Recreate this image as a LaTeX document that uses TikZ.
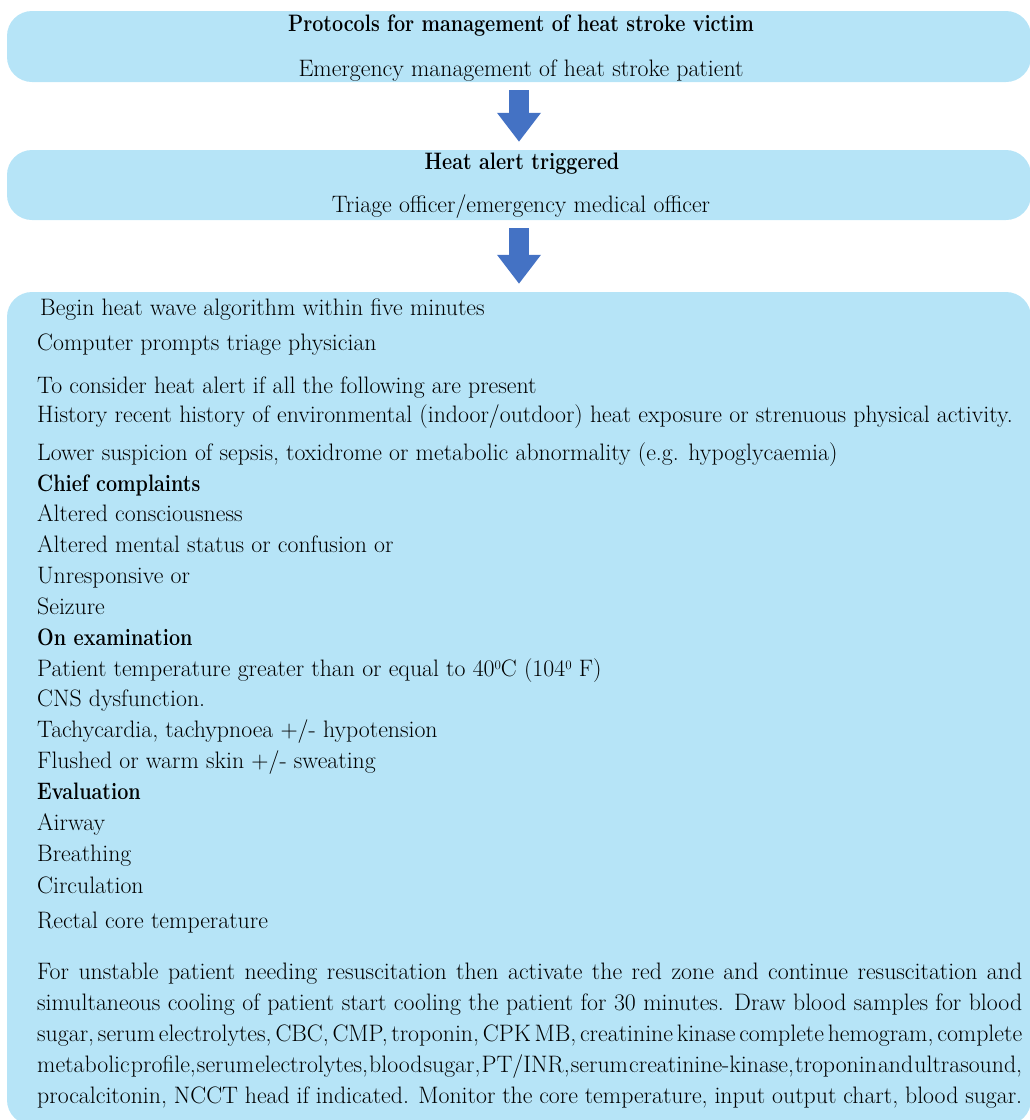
\documentclass[tikz,border=0pt]{standalone}
\usepackage{graphicx}
\usepackage{tikz}
\usetikzlibrary{arrows.meta}
\usetikzlibrary{positioning}

\definecolor{panelblue}{RGB}{182,228,247}
\definecolor{arrowblue}{RGB}{68,114,196}

\newcommand{\bodyfont}{\fontsize{23.8}{31}\selectfont}
\newcommand{\headtext}[1]{\scalebox{0.83}[1]{\bfseries #1}}
\newcommand{\degsup}{\raisebox{0.6ex}{\fontsize{13}{13}\selectfont 0}}

\tikzset{
  panel/.style={fill=panelblue, rounded corners=25pt, inner sep=0pt, minimum width=1024pt},
  txt/.style={anchor=base west, inner sep=0pt, font=\bodyfont},
  title/.style={anchor=base, inner sep=0pt, font=\bodyfont},
  downarrow/.style={draw=arrowblue, line width=20pt, shorten <=8pt, shorten >=8pt,
    -{Triangle[width=42pt, length=29pt]}},
}

\begin{document}
\begin{tikzpicture}[x=1pt, y=-1pt]
    \useasboundingbox (0,0) rectangle (1030,1120);

    % Define the panels
    \node[panel, minimum height=71pt]  (protocol) at (519,46.5) {};
    \node[panel, minimum height=70pt]  (alert)    at (519,185)  {};
    \node[panel, minimum height=833pt] (algo)     at (519,708.5) {};

    % Panel titles
    \node[title] (protocolhead) at (521,31)  {\headtext{Protocols for management of heat stroke victim}};
    \node[title] (protocolsub)  at (521,76)  {Emergency management of heat stroke patient};
    \node[title] (alerthead)    at (522,169) {\headtext{Heat alert triggered}};
    \node[title] (alertsub)     at (521,212) {Triage officer/emergency medical officer};

    % Algorithm lines
    \node[txt] (begin)       at (40,315) {Begin heat wave algorithm within five minutes};
    \node[txt] (prompt)      at (37,350) {Computer prompts triage physician};
    \node[txt] (consider)    at (37,393) {To consider heat alert if all the following are present};
    \node[txt] (history)     at (37,422) {History recent history of environmental (indoor/outdoor) heat exposure or strenuous physical activity.};
    \node[txt] (suspicion)   at (37,460) {Lower suspicion of sepsis, toxidrome or metabolic abnormality (e.g. hypoglycaemia)};
    \node[txt] (chief)       at (37,491) {\headtext{Chief complaints}};
    \node[txt] (conscious)   at (37,521) {Altered consciousness};
    \node[txt] (mental)      at (37,552) {Altered mental status or confusion or};
    \node[txt] (unresp)      at (37,583) {Unresponsive or};
    \node[txt] (seizure)     at (37,614) {Seizure};
    \node[txt] (exam)        at (37,645) {\headtext{On examination}};
    \node[txt] (temp)        at (37,676) {Patient temperature greater than or equal to 40\degsup C (104\degsup\ F)};
    \node[txt] (cns)         at (37,706) {CNS dysfunction.};
    \node[txt] (tachy)       at (37,737) {Tachycardia, tachypnoea +/- hypotension};
    \node[txt] (flushed)     at (37,768) {Flushed or warm skin +/- sweating};
    \node[txt] (eval)        at (37,799) {\headtext{Evaluation}};
    \node[txt] (airway)      at (37,830) {Airway};
    \node[txt] (breathing)   at (37,861) {Breathing};
    \node[txt] (circulation) at (37,893) {Circulation};
    \node[txt] (rectal)      at (37,928) {Rectal core temperature};

    % Resuscitation paragraph
    \node[txt, text width=985pt, align=justify] (resus) at (37,979)
      {For unstable patient needing resuscitation then activate the red zone and continue resuscitation and\linebreak
       simultaneous cooling of patient start cooling the patient for 30 minutes. Draw blood samples for blood\linebreak
       {\spaceskip=3pt plus 30pt minus 2pt sugar, serum electrolytes, CBC, CMP, troponin, CPK MB, creatinine kinase complete hemogram, complete}\linebreak
       {\spaceskip=1pt plus 30pt minus 1pt metabolic profile, serum electrolytes, blood sugar, PT/INR, serum creatinine-kinase, troponin and ultrasound,}\linebreak
       procalcitonin, NCCT head if indicated. Monitor the core temperature, input output chart, blood sugar.\par};

    % Connect the panels
    \draw[downarrow] (protocol) -- (alert);
    \draw[downarrow] (alert) -- (algo);
\end{tikzpicture}
\end{document}
